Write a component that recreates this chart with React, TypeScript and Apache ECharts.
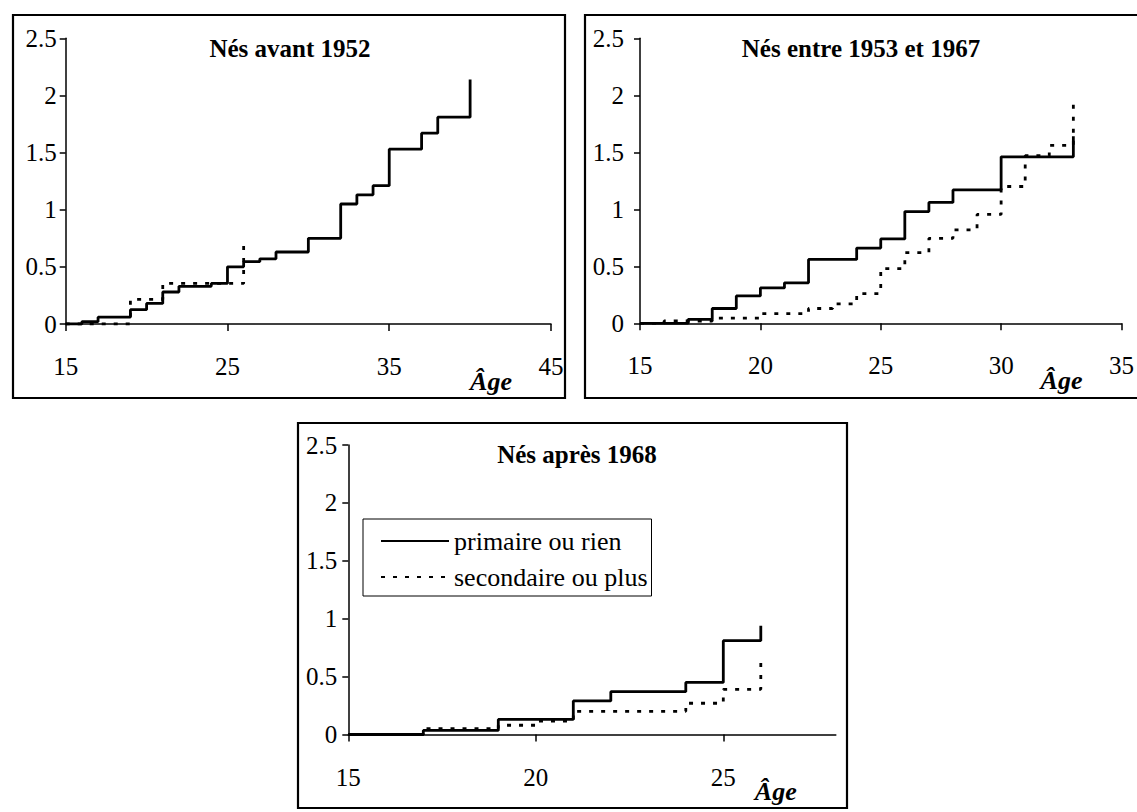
import React, { useEffect, useRef } from 'react';
import * as echarts from 'echarts';

const FONT = '"Liberation Serif", "Times New Roman", Times, serif';

const panelTitles = ['Nés avant 1952', 'Nés entre 1953 et 1967', 'Nés après 1968'];
const seriesNames = ['primaire ou rien', 'secondaire ou plus'];
const axisName = 'Âge';

// Panel 1 : nés avant 1952
const p1PrimAges = [15, 16, 17, 19, 20, 21, 22, 24, 25, 26, 27, 28, 30, 32, 33, 34, 35, 37, 38, 40];
const p1PrimVals = [0, 0.02, 0.06, 0.125, 0.18, 0.28, 0.33, 0.355, 0.5, 0.545, 0.57, 0.63, 0.75, 1.05, 1.13, 1.21, 1.53, 1.67, 1.81, 2.14];
const p1SecAges = [15, 19, 21, 26];
const p1SecVals = [0, 0.215, 0.355, 0.69];

// Panel 2 : nés entre 1953 et 1967
const p2PrimAges = [15, 17, 18, 19, 20, 21, 22, 24, 25, 26, 27, 28, 30, 33];
const p2PrimVals = [0, 0.035, 0.13, 0.24, 0.31, 0.355, 0.56, 0.66, 0.74, 0.98, 1.06, 1.17, 1.46, 1.64];
const p2SecAges = [15, 16, 18, 20, 22, 23, 24, 25, 26, 27, 28, 29, 30, 31, 32, 33];
const p2SecVals = [0, 0.02, 0.045, 0.085, 0.13, 0.17, 0.26, 0.48, 0.62, 0.745, 0.82, 0.955, 1.2, 1.47, 1.56, 1.98];

// Panel 3 : nés après 1968
const p3PrimAges = [15, 17, 19, 21, 22, 24, 25, 26];
const p3PrimVals = [0, 0.035, 0.13, 0.29, 0.37, 0.45, 0.81, 0.94];
const p3SecAges = [15, 17, 19, 20, 21, 24, 25, 26];
const p3SecVals = [0, 0.05, 0.08, 0.115, 0.2, 0.27, 0.39, 0.64];

const xMins = [15, 15, 15];
const xMaxs = [45, 35, 28];
const xIntervals = [10, 5, 5];
const p3XTicks = [15, 20, 25];
const yMax = 2.5;
const yInterval = 0.5;

const pairs = (ages: number[], vals: number[]) => ages.map((a, i) => [a, vals[i]]);

export default function App() {
  const ref = useRef<HTMLDivElement>(null);

  useEffect(() => {
    if (!ref.current) return;
    const chart = echarts.init(ref.current, undefined, { renderer: 'svg' });

    const grids = [
      { left: 65.7, top: 38.3, width: 485.3, height: 285.7 },
      { left: 640, top: 38.3, width: 486, height: 285 },
      { left: 348.3, top: 445, width: 487.5, height: 289.5 },
    ];
    const yLabelMargins = [9, 16, 11];

    const xAxes = grids.map((_, i) => ({
      type: 'value',
      gridIndex: i,
      min: xMins[i],
      max: xMaxs[i],
      interval: xIntervals[i],
      axisLine: { show: true, lineStyle: { color: '#000', width: 1.5 } },
      axisTick: {
        show: true,
        length: 7,
        lineStyle: { color: '#000', width: 1.5 },
        ...(i === 2 ? { customValues: p3XTicks } : {}),
      },
      axisLabel: {
        color: '#000',
        fontFamily: FONT,
        fontSize: 25,
        margin: 30,
        ...(i === 2 ? { customValues: p3XTicks } : {}),
      },
      splitLine: { show: false },
      name: axisName,
      nameLocation: 'end',
      nameGap: -60,
      nameTextStyle: {
        color: '#000',
        fontFamily: FONT,
        fontSize: 26,
        fontStyle: 'italic',
        fontWeight: 'bold',
        align: 'center',
        verticalAlign: 'top',
        padding: [44, 0, 0, 0],
      },
    }));

    const yAxes = grids.map((_, i) => ({
      type: 'value',
      gridIndex: i,
      min: 0,
      max: yMax,
      interval: yInterval,
      axisLine: { show: true, lineStyle: { color: '#000', width: 1.5 } },
      axisTick: { show: true, length: 6, lineStyle: { color: '#000', width: 1.5 } },
      axisLabel: { color: '#000', fontFamily: FONT, fontSize: 25, margin: yLabelMargins[i] },
      splitLine: { show: false },
    }));

    const solid = { color: '#000', width: 2.8, type: 'solid' };
    const dotted = { color: '#000', width: 2.8, type: [4, 8], cap: 'butt' };

    const data = [
      [pairs(p1PrimAges, p1PrimVals), pairs(p1SecAges, p1SecVals)],
      [pairs(p2PrimAges, p2PrimVals), pairs(p2SecAges, p2SecVals)],
      [pairs(p3PrimAges, p3PrimVals), pairs(p3SecAges, p3SecVals)],
    ];

    const series: any[] = [];
    data.forEach((d, i) => {
      series.push({
        type: 'line',
        name: seriesNames[1],
        xAxisIndex: i,
        yAxisIndex: i,
        step: 'end',
        symbol: 'none',
        silent: true,
        color: '#000',
        lineStyle: dotted,
        data: d[1],
        z: 2,
      });
      series.push({
        type: 'line',
        name: seriesNames[0],
        xAxisIndex: i,
        yAxisIndex: i,
        step: 'end',
        symbol: 'none',
        silent: true,
        color: '#000',
        lineStyle: solid,
        data: d[0],
        z: 3,
      });
    });

    const frame = (x: number, y: number, w: number, h: number) => ({
      type: 'rect',
      shape: { x, y, width: w, height: h },
      style: { fill: 'none', stroke: '#000', lineWidth: 2.2 },
      silent: true,
      z: 0,
    });

    const titleText = (x: number, y: number, t: string) => ({
      type: 'text',
      x,
      y,
      style: {
        text: t,
        fill: '#000',
        font: `bold 25px ${FONT}`,
        align: 'center',
        verticalAlign: 'middle',
      },
      silent: true,
    });

    chart.setOption({
      animation: false,
      backgroundColor: '#fff',
      grid: grids.map((g) => ({ ...g, containLabel: false })),
      xAxis: xAxes,
      yAxis: yAxes,
      legend: {
        show: true,
        orient: 'vertical',
        left: 363,
        top: 519,
        padding: [9, 4, 6, 17],
        itemGap: 10,
        itemWidth: 68,
        itemHeight: 14,
        borderColor: '#000',
        borderWidth: 1,
        borderRadius: 0,
        backgroundColor: '#fff',
        selectedMode: false,
        itemStyle: { opacity: 0 },
        lineStyle: { width: 2 },
        data: [{ name: seriesNames[0] }, { name: seriesNames[1] }],
        textStyle: { color: '#000', fontFamily: FONT, fontSize: 26 },
      },
      series,
      graphic: [
        frame(13, 15, 552, 383),
        frame(585, 15, 600, 383),
        frame(298, 423, 549, 385),
        titleText(290, 48, panelTitles[0]),
        titleText(861, 48, panelTitles[1]),
        titleText(577, 454, panelTitles[2]),
      ],
    });

    return () => {
      chart.dispose();
    };
  }, []);

  return (
    <div
      ref={ref}
      style={{ position: 'fixed', left: 0, top: 0, width: 1137, height: 812, background: '#fff' }}
    />
  );
}
